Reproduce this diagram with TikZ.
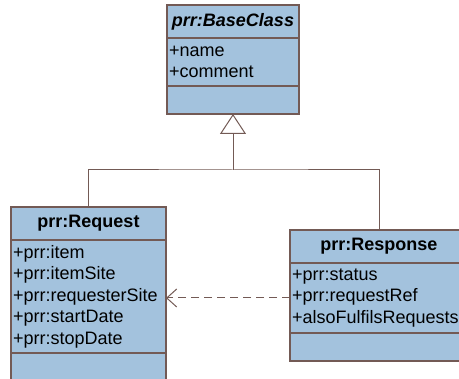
\documentclass[tikz,border=0pt]{standalone}
\usepackage{fontspec}
\setmainfont{Liberation Sans}
\usepackage{tikz}
\usetikzlibrary{positioning,arrows.meta}
\definecolor{umlfill}{HTML}{A3C2DD}
\definecolor{umlline}{HTML}{735A55}

\begin{document}
\begin{tikzpicture}[x=1pt,y=-1pt,font=\fontsize{18}{21.5}\selectfont,
		part/.style={draw=umlline,fill=umlfill,line width=1.2pt,outer sep=0pt,inner xsep=2pt,inner ysep=0pt},
		head/.style={part,minimum height=33pt,align=center,font=\fontsize{18}{21.5}\selectfont\bfseries},
		attrs/.style={part,align=left,below=0pt of #1},
		ops/.style={part,minimum height=28pt,below=0pt of #1},
		link/.style={draw=umlline,line width=1pt},
	]
		\useasboundingbox (0,0) rectangle (459,379);

		% base class
		\node[head,anchor=north west,text width=128pt,font=\fontsize{18}{21.5}\selectfont\bfseries\itshape] (basehead) at (167,5) {prr:BaseClass};
		\node[attrs=basehead,text width=128pt,minimum height=48pt] (baseattr) {+name\\+comment};
		\node[ops=baseattr,text width=128pt] (baseops) {};

		% request
		\node[head,anchor=north west,text width=151pt] (reqhead) at (11,207) {prr:Request};
		\node[attrs=reqhead,text width=151pt,minimum height=113pt] (reqattr)
			{+prr:item\\+prr:itemSite\\+prr:requesterSite\\+prr:startDate\\+prr:stopDate};
		\node[ops=reqattr,text width=151pt] (reqops) {};

		% response
		\node[head,anchor=north west,text width=174pt] (resphead) at (290,230) {prr:Response};
		\node[attrs=resphead,text width=174pt,minimum height=70pt] (respattr)
			{+prr:status\\+prr:requestRef\\+alsoFulfilsRequests};
		\node[ops=respattr,text width=174pt] (respops) {};

		\coordinate (fork) at (basehead.north |- 0,170);
		\draw[link] (reqhead.north) |- (fork) -| (resphead.north);
		\draw[link,-{Triangle[open,length=20pt,width=26pt]}] (fork) -- (baseops.south);
		\draw[link,dash pattern=on 8pt off 5pt,-{Straight Barb[length=10pt,width=18pt]}]
			(respattr.west) -- (reqattr.east |- respattr.west);
	\end{tikzpicture}
\end{document}
